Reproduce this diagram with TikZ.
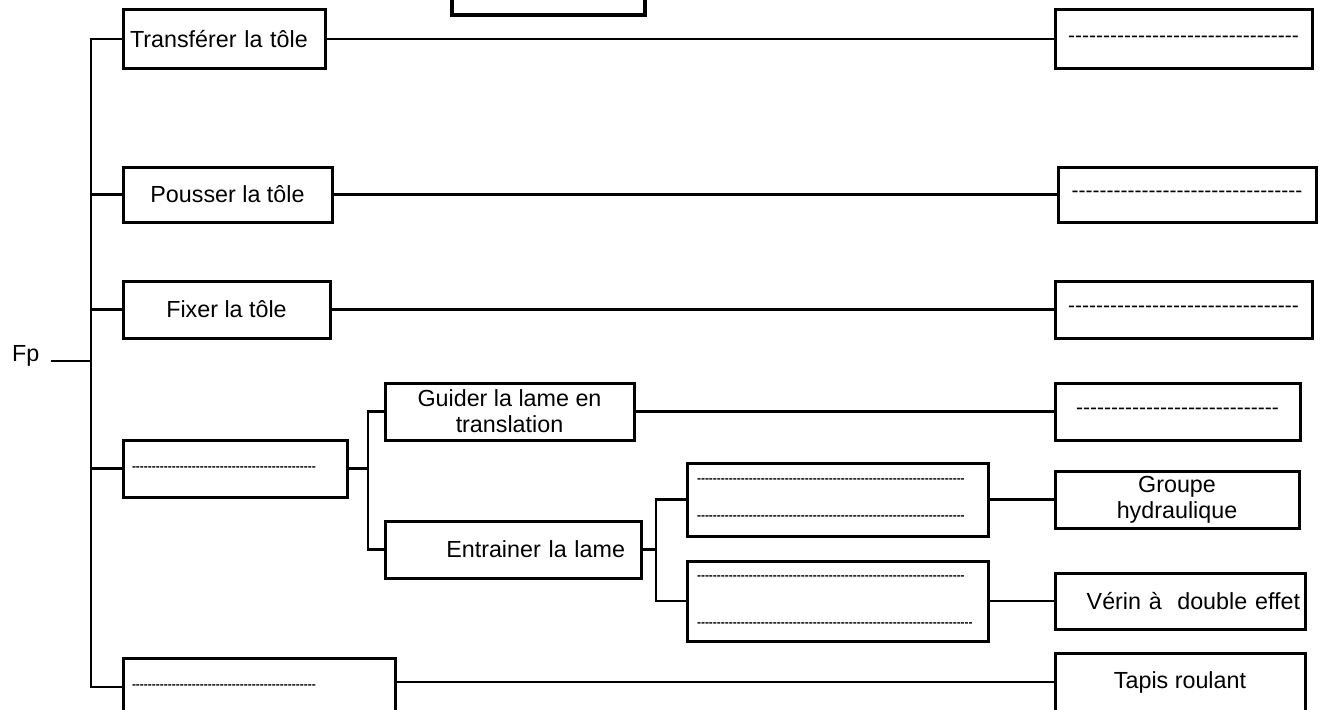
\documentclass[tikz,border=0pt]{standalone}
\usepackage{fontspec}
\newfontfamily\arial{Liberation Sans}
\newcommand{\tirets}[1]{\foreach \k in {1,...,#1}{-}}

\begin{document}
\begin{tikzpicture}[x=1pt,y=-1pt,line width=2.2pt,font=\arial\fontsize{23.3}{26}\selectfont]
\tikzstyle{boite} = [draw=black,line width=3pt,inner sep=0pt,align=center]
\tikzstyle{petit} = [font=\arial\bfseries\fontsize{12}{14}\selectfont]
\tikzstyle{grand} = [font=\arial\fontsize{21}{24}\selectfont]
    \clip (0,0) rectangle (1321,709);
    \fill[white] (0,0) rectangle (1321,709);

    \node[boite,line width=3.8pt,minimum width=193,minimum height=55] (haut) at (548.5,-12.5) {};

    \node (fp) [anchor=base west,inner sep=0pt] at (11,361) {Fp};
    \coordinate (tronc) at (91,361);

    \node[boite,minimum height=58,inner xsep=7pt,text width=188,align=left] (transferer) at (224,39) {Transférer la tôle};
    \node[boite,minimum width=209,minimum height=55] (pousser) at (227.5,194.5) {Pousser la tôle};
    \node[boite,minimum width=207,minimum height=57] (fixer) at (226.5,309.5) {Fixer la tôle};
    \node[boite,petit,minimum height=57,inner xsep=9pt,text width=206,align=left] (guidage) at (235,468.5) {\tirets{46}};
    \node[boite,petit,minimum height=58,inner xsep=9pt,text width=254,align=left] (bas) at (259,687) {\tirets{46}};

    \node[boite,minimum width=249,minimum height=57] (guider) at (509.5,411.5) {Guider la lame en\\translation};
    \node[boite,minimum height=57,inner xsep=16pt,text width=224,align=right] (entrainer) at (513,549.5) {Entrainer la lame};
    \coordinate (noeudG) at (368,468.5);
    \coordinate (noeudE) at (656,549.5);

    \node[boite,petit,minimum height=73,inner xsep=10pt,text width=281,align=left] (sousA) at (837.5,499.5) {\tirets{67}\\[23pt]\tirets{67}};
    \node[boite,petit,minimum height=80,inner xsep=10pt,text width=281,align=left] (sousB) at (837.5,601) {\tirets{67}\\[33pt]\tirets{69}};

    \node[boite,grand,minimum width=257,minimum height=58] (solA) at (1183.5,39) {\tirets{33}};
    \node[boite,grand,minimum width=258,minimum height=55] (solB) at (1187,194.5) {\tirets{33}};
    \node[boite,grand,minimum width=257,minimum height=57] (solC) at (1183.5,309.5) {\tirets{33}};
    \node[boite,grand,minimum width=245,minimum height=57] (solD) at (1177.5,411.5) {\tirets{29}};
    \node[boite,minimum width=244,minimum height=57] (groupe) at (1177,499.5) {Groupe\\hydraulique};
    \node[boite,minimum height=56,inner xsep=5pt,text width=240,align=right] (verin) at (1180,601) {Vérin à\ \ double effet};
    \node[boite,minimum width=250,minimum height=58] (tapis) at (1180,682) {Tapis roulant};

    \tikzset{lien/.style={line width=2.2pt}}
    \draw[lien] ([xshift=11pt]fp.base east) -- (tronc);
    \foreach \b in {transferer,pousser,fixer,guidage,bas}
        \draw[lien] (tronc) |- (\b.west);
    \draw (transferer) edge [lien] (solA);
    \draw (pousser) edge [lien] (solB);
    \draw (fixer) edge [lien] (solC);
    \draw (guider) edge [lien] (solD);
    \draw (sousA) edge [lien] (groupe);
    \draw (sousB) edge [lien] (verin);
    \draw[lien] (tapis.west -| bas.east) -- (tapis.west);
    \draw[lien] (guidage.east) -- (noeudG);
    \draw[lien] (noeudG) |- (guider.west);
    \draw[lien] (noeudG) |- (entrainer.west);
    \draw[lien] (entrainer.east) -- (noeudE);
    \draw[lien] (noeudE) |- (sousA.west);
    \draw[lien] (noeudE) |- (sousB.west);
\end{tikzpicture}
\end{document}
